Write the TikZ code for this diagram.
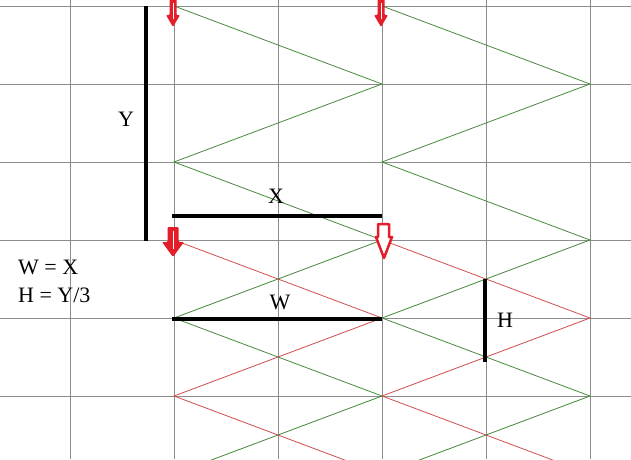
\documentclass[tikz,border=0pt]{standalone}
\usepackage{fontspec}
\setmainfont{Liberation Serif}
\definecolor{zigred}{RGB}{210,80,80}
\definecolor{ziggreen}{RGB}{70,140,60}
\definecolor{dropred}{RGB}{228,30,40}
\begin{document}
\begin{tikzpicture}[x=1pt, y=-1pt,
    gridline/.style={draw=gray!90, line width=0.7pt},
    greenzig/.style={draw=ziggreen, line width=0.8pt},
    redzig/.style={draw=zigred, line width=0.8pt},
    measure/.style={draw=black, line width=4pt},
    lbl/.style={font=\fontsize{22}{26}\selectfont, inner sep=0pt}]
        \useasboundingbox (0,0) rectangle (631,459);
        \clip (0,0) rectangle (631,459);
        \fill[white] (0,0) rectangle (631,459);

        % grid
        \foreach \gx in {70,174,278,382,486,590}
          \draw[gridline] (\gx,0) -- (\gx,459);
        \foreach \gy in {6,84,162,240,318,396}
          \draw[gridline] (0,\gy) -- (631,\gy);

        % zigzags
        \foreach \sx in {174,382} {
          \draw[greenzig] (\sx,6) -- (\sx+208,84) -- (\sx,162) -- (\sx+208,240)
                -- (\sx,318) -- (\sx+208,396) -- (\sx,474);
          \draw[redzig] (\sx,240) -- (\sx+208,318) -- (\sx,396) -- (\sx+208,474);
        }

        % drop arrows (filled)
        \foreach \cx/\ty/\ln/\hl/\sw/\hw in {173/-1/28/12/3.5/7, 381/-1/28/12/3.5/7, 173/227/30/15/5.5/11} {
          \fill[dropred, rounded corners=1pt] (\cx-\sw,\ty) -- (\cx+\sw,\ty) -- (\cx+\sw,\ty+\ln-\hl)
                -- (\cx+\hw,\ty+\ln-\hl) -- (\cx,\ty+\ln) -- (\cx-\hw,\ty+\ln-\hl)
                -- (\cx-\sw,\ty+\ln-\hl) -- cycle;
          \draw[white, line width=0.8pt] (\cx,\ty+4) -- (\cx,\ty+\ln-8);
        }
        % drop arrow (outlined)
        \draw[dropred, fill=white, line width=2.5pt, line join=round]
              (378,224) -- (389,224) -- (389,237) -- (392,237) -- (384,258)
              -- (376,237) -- (378,237) -- cycle;

        % measures
        \draw[measure] (146,6) -- (146,241);
        \node[lbl] (ylbl) at (126,119) {Y};

        \draw[measure] (172,216) -- (382,216);
        \node[lbl] (xlbl) at (276,196) {X};

        \draw[measure] (172,319) -- (382,319);
        \node[lbl] (wlbl) at (280,302) {W};

        \draw[measure] (485,279) -- (485,362);
        \node[lbl] (hlbl) at (505,320) {H};

        % relations
        \node[lbl, anchor=west] (rel1) at (18,267) {W = X};
        \node[lbl, anchor=west] (rel2) at (18,295) {H = Y/3};
      \end{tikzpicture}
\end{document}
